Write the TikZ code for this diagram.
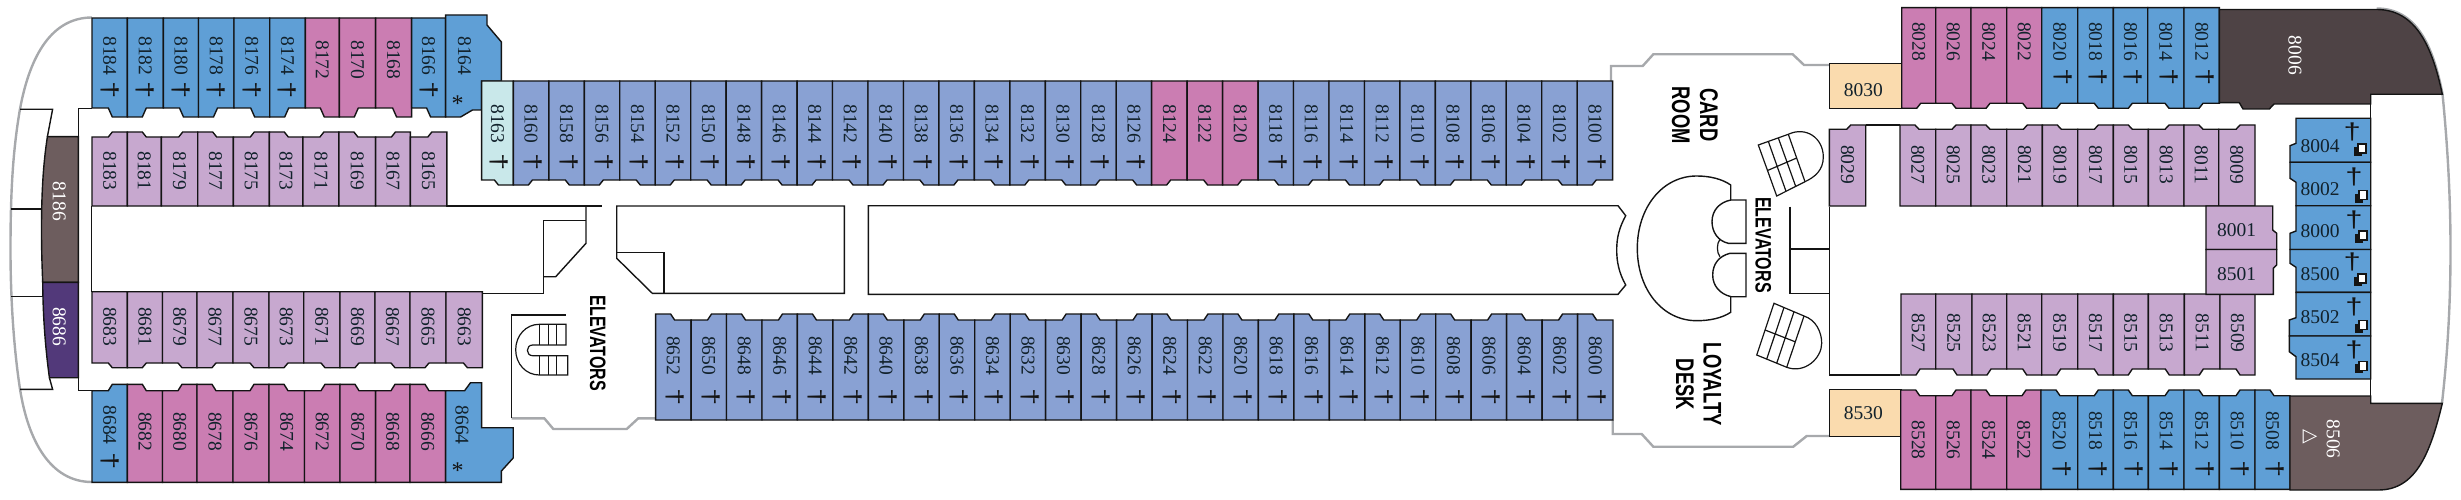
\documentclass[tikz,border=0pt]{standalone}
\usepackage{fontspec}
\usepackage{graphicx}
\setmainfont{Liberation Serif}
\newfontfamily\sansf{Liberation Sans}
\newfontfamily\symf{DejaVu Sans}
\definecolor{bluec}{HTML}{5F9FD6}
\definecolor{pinkc}{HTML}{CB7DB2}
\definecolor{lilacc}{HTML}{C7A8CF}
\definecolor{peric}{HTML}{89A1D3}
\definecolor{tealc}{HTML}{C9E8EA}
\definecolor{tanc}{HTML}{FADBAE}
\definecolor{dkc}{HTML}{4E4345}
\definecolor{brc}{HTML}{6D5D5E}
\definecolor{purpc}{HTML}{52397A}
\definecolor{hullc}{HTML}{A7A9AC}
\definecolor{inkc}{HTML}{141414}
\definecolor{numc}{HTML}{12222C}
\tikzset{
  room/.style={draw=inkc,line width=1.4pt,line join=miter},
  wall/.style={draw=inkc,line width=1.4pt},
  hull/.style={draw=hullc,line width=2.4pt},
  num/.style={inner sep=0pt,text=numc,font=\fontsize{19.5}{20}\selectfont,rotate=-90},
  numh/.style={inner sep=0pt,text=numc,font=\fontsize{19.5}{20}\selectfont},
  numw/.style={inner sep=0pt,text=white,font=\fontsize{19.5}{20}\selectfont,rotate=-90},
  dag/.style={inner sep=0pt,text=inkc,font=\fontsize{23}{24}\selectfont\sansf,rotate=-90},
  dagu/.style={inner sep=0pt,text=inkc,font=\fontsize{23}{24}\selectfont\sansf},
  star/.style={inner sep=0pt,text=inkc,font=\fontsize{24}{24}\selectfont},
  bigt/.style={inner sep=0pt,text=black,rotate=-90}
}
\newcommand\cond[2]{\scalebox{.72}[1]{\fontsize{#1}{#1}\selectfont\sansf\bfseries #2}}
\newcommand\dg{\scalebox{1.35}[1]{†}}
% far edge, base, bump, label y (with dagger), label y (none), dagger y, dagger dx
\newcommand\setrow[7]{\def\rfar{#1}\def\rbase{#2}\def\rbump{#3}\def\rlab{#4}\def\rlabn{#5}\def\rdag{#6}\def\rdx{#7}}
\newcommand\cabshape[5]{%
  \if #4L%
    \draw[room,fill=#5] (#1,\rfar)--(#2,\rfar)--(#2,\rbase)--({#1+19},\rbase)--({#1+15},\rbump)--(#1,\rbump)--cycle;
  \else
    \draw[room,fill=#5] (#1,\rfar)--(#2,\rfar)--(#2,\rbump)--({#2-15},\rbump)--({#2-19},\rbase)--(#1,\rbase)--cycle;
  \fi}
\newcommand\cab[5]{\cabshape{#1}{#2}{#3}{#4}{#5}%
  \node[num] (n#3) at ({(#1+#2)/2},\rlabn) {#3};}
\newcommand\cabd[5]{\cabshape{#1}{#2}{#3}{#4}{#5}%
  \node[num] (n#3) at ({(#1+#2)/2},\rlab) {#3};
  \node[dag] (d#3) at ({(#1+#2)/2+\rdx},\rdag) {\dg};}
\newcommand\suite[4]{% polygon drawn by caller; number, dagger, icon
  \node[numh] (n#1) at (2320,#2) {#1};
  \node[dagu] (d#1) at (#3,#4) {\dg};}
\newcommand\icon[2]{%
  \fill[inkc] ({#1-6},{#2-3}) rectangle ({#1+2},{#2+6});
  \draw[inkc,line width=1.2pt,fill=white] ({#1-2},{#2-6}) rectangle ({#1+6},{#2+3});}
\begin{document}
\begin{tikzpicture}[x=1pt,y=-1pt]
\useasboundingbox (0,0) rectangle (2461,500);
% hull
\draw[hull] (92,17.5) .. controls (52,17.5) and (30,55) .. (20,109) .. controls (13,150) and (10.5,190) .. (10.5,250) .. controls (10.5,300) and (14,350) .. (20,389) .. controls (28,440) and (50,482) .. (92,482);
\draw[hull] (2376.7,8.5) .. controls (2416,8.5) and (2433,45) .. (2442.5,94) .. controls (2448,150) and (2450.5,200) .. (2450.5,250) .. controls (2450.5,300) and (2448,350) .. (2442,403);
\draw[hull] (1611,81) -- (1611,66) -- (1642.7,66) -- (1653.3,54.3) -- (1792.7,54.3) -- (1804,65) -- (1829.3,65);
\draw[hull] (1612.7,420) -- (1612.7,434) -- (1641.7,434) -- (1653.3,446.7) -- (1793.3,446.7) -- (1806.7,436) -- (1829.3,436);
\draw[hull] (511.7,418.3) -- (544.3,418.3) -- (553.3,429) -- (626.7,429) -- (638.3,418.3) -- (656,418.3);
% left walls
\draw[wall] (20,109.3) -- (52.6,109.3) -- (47.4,136.7);
\draw[wall] (10.7,209) -- (41.5,209);
\draw[wall] (10.7,296.7) -- (42.7,296.7);
\draw[wall] (20,389.3) -- (52.6,389.3) -- (49.4,377.7);
\draw[wall] (92,108.3) -- (78.3,108.3) -- (78.3,390.7) -- (92,390.7);
\draw[wall] (91.7,206) -- (91.7,291.7);
\draw[wall] (446,206) -- (601.7,206);
\draw[wall] (482,293.3) -- (543.3,293.3) -- (543.3,220.7) -- (586,220.7);
\draw[wall] (586,206) -- (586,243.3) -- (555.7,276.7) -- (543.3,276.7);
% corridor blocks
\draw[wall] (616.7,206) -- (844.3,206) -- (844.3,293.3) -- (652.3,293.3) -- (616.7,258.3) -- cycle;
\draw[wall] (616.7,252.7) -- (664,252.7) -- (664,293.3);
\draw[wall] (868.3,205.7) -- (1618,205.7) -- (1625.7,215.7) .. controls (1619,228) and (1616.7,238) .. (1616.7,250) .. controls (1616.7,262) and (1619,273) .. (1625.7,285) -- (1618,294.3) -- (868.3,294.3) -- cycle;
% left elevators
\draw[wall] (565.7,315) -- (511.7,315) -- (511.7,418);
\draw[room,line width=1.2pt] (566,345) -- (566,324.3) -- (539.3,324.3) .. controls (526,324.3) and (515.7,335.5) .. (515.7,349.7) .. controls (515.7,364) and (526,375) .. (539.3,375) -- (567.7,375) -- (567.7,355.7) -- (532.7,355.7) .. controls (525.6,355.7) and (525.6,345) .. (532.7,345) -- cycle;
\foreach \sx in {539.3,548.3,556.7}{\draw[room,line width=1.2pt] (\sx,324.3) -- (\sx,345) (\sx,355.7) -- (\sx,375);}
\node[bigt] (elevL) at (597.7,343.3) {\cond{22.3}{ELEVATORS}};
% central lobby
\draw[wall] (1730.7,200) -- (1730.7,185) .. controls (1722,179) and (1710,176) .. (1696.7,176) .. controls (1662,176) and (1637.3,208) .. (1637.3,248.3) .. controls (1637.3,289) and (1662,320.7) .. (1696.7,320.7) .. controls (1710,320.7) and (1722,318) .. (1730.7,312.3) -- (1730.7,296.7);
\draw[wall] (1731,200) -- (1746,200) -- (1746,243.3) -- (1728.3,243.3) .. controls (1718,241) and (1712,232) .. (1712,221.7) .. controls (1712,210) and (1720,202) .. (1731,200);
\draw[wall] (1730,253.3) -- (1746,253.3) -- (1746,296.7) -- (1731,296.7) .. controls (1720,294) and (1712.7,286) .. (1712.7,275) .. controls (1712.7,264) and (1719,256) .. (1730,253.3);
\draw[wall,line width=1.2pt] (1720,239.3) .. controls (1716.5,243) and (1716.5,253) .. (1720,256.7);
\node[bigt] (elevR) at (1763.3,245) {\cond{22.3}{ELEVATORS}};
\node[bigt] (card) at (1709,114.8) {\cond{25.5}{CARD}};
\node[bigt] (roomt) at (1681,115.3) {\cond{25.5}{ROOM}};
\node[bigt] (loyal) at (1712.5,384.2) {\cond{25.5}{LOYALTY}};
\node[bigt] (desk) at (1684.8,384.5) {\cond{25.5}{DESK}};
% stairs upper
\draw[room,line width=1.2pt] (1758.3,145) -- (1788.3,134.3) .. controls (1806,126) and (1823.3,138) .. (1823.3,157) .. controls (1823.3,170) and (1815,177) .. (1805,181.7) -- (1776.7,196) -- cycle;
\draw[room,line width=1.2pt] (1788.3,134.3) -- (1805,181.7) (1768.3,141.4) -- (1786,191.3) (1778.3,137.9) -- (1795.7,186.4) (1767.5,170.5) -- (1796.7,158);
% stairs lower
\draw[room,line width=1.2pt] (1774,303.3) -- (1804,316) .. controls (1816,320) and (1821.7,332) .. (1821.7,343.3) .. controls (1821.7,358) and (1805,374) .. (1786.7,367.3) -- (1756.7,355) -- cycle;
\draw[room,line width=1.2pt] (1804,316) -- (1786.7,367.3) (1784,307.5) -- (1766.7,359.1) (1794,311.8) -- (1776.7,363.2) (1765,330) -- (1795,341.7);
% right walls
\draw[wall] (1829.7,206.7) -- (1829.7,375) -- (1900,375);
\draw[wall] (1790,206.7) -- (1790,293.3) -- (1829.7,293.3);
\draw[wall] (1790,249) -- (1829.7,249);
\draw[wall] (1865.7,125) -- (1900,125);
\draw[wall] (2370.7,94.3) -- (2370.7,403.3);
% brown stern cabins
\draw[room,fill=brc] (47.4,136.7) -- (78.3,136.7) -- (78.3,282.3) -- (42.7,282.3) .. controls (41.8,260) and (41.5,245) .. (41.5,230) .. controls (41.5,195) and (43,165) .. (47.4,136.7) -- cycle;
\draw[room,fill=purpc] (42.7,282.3) -- (78.3,282.3) -- (78.3,377.7) -- (49.4,377.7) .. controls (45,345) and (43,315) .. (42.7,282.3) -- cycle;
\node[numw] (n8186) at (59.3,201.5) {8186};
\node[numw] (n8686) at (59.3,326.5) {8686};
% row A
\setrow{18}{108}{117}{56}{60}{90.6}{0}
\cabd{92}{127.3}{8184}{R}{bluec}
\cabd{127.3}{163.3}{8182}{L}{bluec}
\cabd{163.3}{198.5}{8180}{R}{bluec}
\cabd{198.5}{234}{8178}{L}{bluec}
\cabd{234}{269.7}{8176}{R}{bluec}
\cabd{269.7}{305.3}{8174}{L}{bluec}
\cab{305.3}{339.3}{8172}{R}{pinkc}
\cab{339.3}{375.6}{8170}{L}{pinkc}
\cab{375.6}{411.6}{8168}{R}{pinkc}
\cabd{411.6}{445.6}{8166}{R}{bluec}
\draw[room,fill=bluec] (445.6,15) -- (487,15) -- (487,25) -- (501.4,42) -- (501.4,81) -- (481.6,81) -- (481.6,110) -- (472.5,110) -- (460.6,117) -- (445.6,117) -- cycle;
\node[num] (n8164) at (464.6,56) {8164};
\node[star] (s8164) at (457.5,104) {*};
% row B
\setrow{206}{137}{132}{171}{171}{0}{0}
\cab{92}{127.3}{8183}{R}{lilacc}
\cab{127.3}{161.3}{8181}{L}{lilacc}
\cab{161.3}{197.7}{8179}{R}{lilacc}
\cab{197.7}{233.3}{8177}{L}{lilacc}
\cab{233.3}{269.3}{8175}{R}{lilacc}
\cab{269.3}{302.9}{8173}{L}{lilacc}
\cab{302.9}{338.9}{8171}{R}{lilacc}
\cab{338.9}{375.6}{8169}{L}{lilacc}
\cab{375.6}{410.4}{8167}{R}{lilacc}
\cab{410.4}{446.8}{8165}{R}{lilacc}
% row C
\setrow{81}{180}{185}{124}{124}{162}{2}
\cabd{481.6}{513.4}{8163}{R}{tealc}
\foreach \n [count=\i from 0] in {8160,8158,...,8100}{
  \pgfmathsetmacro\xa{513.4+35.46*\i}
  \pgfmathsetmacro\xb{\xa+35.46}
  \ifodd\i \def\s{R}\else\def\s{L}\fi
  \ifnum\n>8119 \ifnum\n<8125
     \cab{\xa}{\xb}{\n}{\s}{pinkc}
  \else
     \cabd{\xa}{\xb}{\n}{\s}{peric}
  \fi\else
     \cabd{\xa}{\xb}{\n}{\s}{peric}
  \fi
}
% row D
\setrow{420}{320}{314}{355.5}{355.5}{397}{2}
\foreach \n [count=\i from 0] in {8652,8650,...,8600}{
  \pgfmathsetmacro\xa{655.6+35.46*\i}
  \pgfmathsetmacro\xb{\xa+35.46}
  \ifodd\i \def\s{R}\else\def\s{L}\fi
  \cabd{\xa}{\xb}{\n}{\s}{peric}
}
% row E
\setrow{291.7}{363}{367.7}{326.5}{326.5}{0}{0}
\cab{92}{127.3}{8683}{R}{lilacc}
\cab{127.3}{162.5}{8681}{L}{lilacc}
\cab{162.5}{197}{8679}{R}{lilacc}
\cab{197}{233}{8677}{L}{lilacc}
\cab{233}{269}{8675}{R}{lilacc}
\cab{269}{303.7}{8673}{L}{lilacc}
\cab{303.7}{340}{8671}{R}{lilacc}
\cab{340}{375}{8669}{L}{lilacc}
\cab{375}{410}{8667}{R}{lilacc}
\cab{410}{446}{8665}{L}{lilacc}
\cab{446}{482.4}{8663}{R}{lilacc}
% row F
\setrow{482.3}{390.7}{384.3}{425}{431.7}{460.7}{0}
\cabd{92}{127.3}{8684}{R}{bluec}
\cab{127.3}{162.5}{8682}{L}{pinkc}
\cab{162.5}{197}{8680}{R}{pinkc}
\cab{197}{233}{8678}{L}{pinkc}
\cab{233}{269}{8676}{R}{pinkc}
\cab{269}{304.5}{8674}{L}{pinkc}
\cab{304.5}{340}{8672}{R}{pinkc}
\cab{340}{375.6}{8670}{L}{pinkc}
\cab{375.6}{410}{8668}{R}{pinkc}
\cab{410}{445.6}{8666}{L}{pinkc}
\draw[room,fill=bluec] (445.6,390.7) -- (464.6,390.7) -- (470.5,382.7) -- (481.6,382.7) -- (481.6,427.7) -- (513.2,427.7) -- (513.2,458) -- (501.4,471) -- (501.4,482.3) -- (445.6,482.3) -- cycle;
\node[num] (n8664) at (462,425) {8664};
\node[star] (s8664) at (457.5,471) {*};
% tan
\draw[room,fill=tanc] (1829.3,63.3) rectangle (1901.7,108.3);
\node[numh] (n8030) at (1863.3,90) {8030};
\draw[room,fill=tanc] (1829.3,389.3) rectangle (1901,436.7);
\node[numh] (n8530) at (1863.3,413.3) {8530};
% top right
\setrow{7.7}{103.3}{108.3}{41.7}{41.7}{77.3}{3}
\cab{1901.7}{1935.7}{8028}{L}{pinkc}
\cab{1935.7}{1971}{8026}{R}{pinkc}
\cab{1971}{2006.7}{8024}{L}{pinkc}
\cab{2006.7}{2041.7}{8022}{R}{pinkc}
\cabd{2041.7}{2077.7}{8020}{L}{bluec}
\cabd{2077.7}{2113.3}{8018}{R}{bluec}
\cabd{2113.3}{2147.7}{8016}{L}{bluec}
\cabd{2147.7}{2184}{8014}{R}{bluec}
\cabd{2184}{2219.3}{8012}{L}{bluec}
\draw[room,fill=dkc] (2219.3,9.5) -- (2376.7,9.5) .. controls (2415,9.5) and (2432,45) .. (2442.3,94.3) -- (2370.7,94.3) -- (2370.7,104) -- (2274,104) -- (2269.3,109) -- (2243,109) -- (2239.3,102.7) -- (2219.3,102.7) -- cycle;
\node[numw] (n8006) at (2295,55.5) {8006};
% bottom right
\setrow{489.3}{395.7}{390}{430.7}{440}{469}{3}
\cab{1900.7}{1935.7}{8528}{L}{pinkc}
\cab{1935.7}{1971}{8526}{R}{pinkc}
\cab{1971}{2006.7}{8524}{L}{pinkc}
\cab{2006.7}{2041}{8522}{R}{pinkc}
\cabd{2041}{2077.7}{8520}{L}{bluec}
\cabd{2077.7}{2113.3}{8518}{R}{bluec}
\cabd{2113.3}{2148.3}{8516}{L}{bluec}
\cabd{2148.3}{2184}{8514}{R}{bluec}
\cabd{2184}{2219.3}{8512}{L}{bluec}
\cabd{2219.3}{2255}{8510}{R}{bluec}
\cabd{2255}{2290}{8508}{L}{bluec}
\draw[room,fill=brc] (2290,396) -- (2370.7,396) -- (2370.7,403.3) -- (2442.3,403.3) .. controls (2430,455) and (2415,490) .. (2378.3,490) -- (2290,490) -- cycle;
\node[numw] (n8506) at (2333.3,439) {8506};
\node[inner sep=0pt,text=white,font=\fontsize{19}{20}\selectfont\symf,rotate=-90] (tri) at (2310,436.7) {△};
% inner top right
\setrow{206}{129.3}{125}{164.7}{164.7}{0}{0}
\cab{1829.3}{1865.7}{8029}{R}{lilacc}
\cab{1900}{1935.7}{8027}{L}{lilacc}
\cab{1935.7}{1971}{8025}{R}{lilacc}
\cab{1971}{2006.7}{8023}{L}{lilacc}
\cab{2006.7}{2042.3}{8021}{R}{lilacc}
\cab{2042.3}{2077.7}{8019}{L}{lilacc}
\cab{2077.7}{2113.3}{8017}{R}{lilacc}
\cab{2113.3}{2148.3}{8015}{L}{lilacc}
\cab{2148.3}{2184}{8013}{R}{lilacc}
\cab{2184}{2218.7}{8011}{L}{lilacc}
\cab{2218.7}{2255}{8009}{R}{lilacc}
% inner bottom right
\setrow{294}{369}{375}{333}{333}{0}{0}
\cab{1901}{1935.7}{8527}{L}{lilacc}
\cab{1935.7}{1972}{8525}{R}{lilacc}
\cab{1972}{2006.7}{8523}{L}{lilacc}
\cab{2006.7}{2041.7}{8521}{R}{lilacc}
\cab{2041.7}{2077.7}{8519}{L}{lilacc}
\cab{2077.7}{2113.3}{8517}{R}{lilacc}
\cab{2113.3}{2148.3}{8515}{L}{lilacc}
\cab{2148.3}{2184.3}{8513}{R}{lilacc}
\cab{2184.3}{2220}{8511}{L}{lilacc}
\cab{2220}{2255}{8509}{R}{lilacc}
% 8001 / 8501
\draw[room,fill=lilacc] (2206,206) -- (2272.7,206) -- (2272.7,230) -- (2276.7,233.3) -- (2276.7,249.5) -- (2206,249.5) -- cycle;
\draw[room,fill=lilacc] (2206,249.5) -- (2276.7,249.5) -- (2276.7,265) -- (2273.3,268.3) -- (2273.3,294.3) -- (2206,294.3) -- cycle;
\node[numh] (n8001) at (2236.7,230) {8001};
\node[numh] (n8501) at (2236.7,274) {8501};
% forward suites
\draw[room,fill=bluec] (2296,118.3) -- (2370.7,118.3) -- (2370.7,162.3) -- (2290,162.3) -- (2290,145.7) -- (2296,143.3) -- cycle;
\draw[room,fill=bluec] (2290,162.3) -- (2370.7,162.3) -- (2370.7,205.7) -- (2296,205.7) -- (2296,182.3) -- (2290,178.3) -- cycle;
\draw[room,fill=bluec] (2296,205.7) -- (2370.7,205.7) -- (2370.7,249.5) -- (2290,249.5) -- (2290,233.3) -- (2296,231) -- cycle;
\draw[room,fill=bluec] (2290,249.5) -- (2370.7,249.5) -- (2370.7,292.3) -- (2296,292.3) -- (2296,267.3) -- (2290,263.3) -- cycle;
\draw[room,fill=bluec] (2296,292.3) -- (2370.7,292.3) -- (2370.7,336) -- (2289.3,336) -- (2289.3,320) -- (2296,317.7) -- cycle;
\draw[room,fill=bluec] (2289.3,336) -- (2370.7,336) -- (2370.7,379) -- (2296,379) -- (2296,356.7) -- (2289.3,351.7) -- cycle;
\suite{8004}{145.7}{2352.3}{131.7}\icon{2360}{150}
\suite{8002}{189.3}{2354}{176.7}\icon{2361}{196.7}
\suite{8000}{231}{2354}{220}\icon{2361}{237}
\suite{8500}{274}{2352.3}{261.7}\icon{2360}{280}
\suite{8502}{317.3}{2354}{306.7}\icon{2361}{326.7}
\suite{8504}{360}{2354}{350}\icon{2361}{367.3}
\end{tikzpicture}
\end{document}
